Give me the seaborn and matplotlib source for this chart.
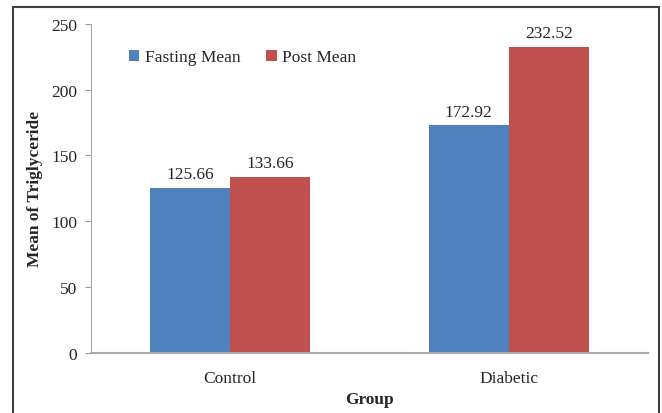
import matplotlib
matplotlib.use("Agg")
import matplotlib.pyplot as plt
import seaborn as sns
import pandas as pd
from matplotlib.patches import Rectangle

groups = ["Control", "Diabetic"]
series = ["Fasting Mean", "Post Mean"]
fasting = [125.66, 172.92]
post = [133.66, 232.52]
yticks = [0, 50, 100, 150, 200, 250]

df = pd.DataFrame({
    "Group": groups * 2,
    "Series": [series[0]] * 2 + [series[1]] * 2,
    "Value": fasting + post,
})

sns.set_style("white")
plt.rcParams["font.family"] = ["Liberation Serif", "DejaVu Serif"]

fig = plt.figure(figsize=(6.62, 4.14), dpi=100)
ax = fig.add_axes([0.1375, 0.145, 0.979 - 0.1375, 0.94 - 0.145])

palette = {"Fasting Mean": "#4F81BD", "Post Mean": "#C0504D"}
sns.barplot(data=df, x="Group", y="Value", hue="Series", palette=palette,
            width=0.575, ax=ax, saturation=1, legend=True, linewidth=0)

for cont in ax.containers:
    ax.bar_label(cont, labels=[f"{v:.2f}" for v in cont.datavalues],
                 padding=4, fontsize=12.5)

ax.set_ylim(0, 250)
ax.set_yticks(yticks)
ax.set_xlim(-0.5, 1.5)
ax.tick_params(axis="y", labelsize=12.5, length=4, color="#999999", direction="out", pad=6, left=True)
ax.tick_params(axis="x", labelsize=12.5, length=0, pad=12)
for s in ["top", "right"]:
    ax.spines[s].set_visible(False)
ax.spines["left"].set_color("#AAAAAA")
ax.spines["bottom"].set_color("#AAAAAA")
ax.spines["bottom"].set_linewidth(1.5)
ax.set_ylabel("Mean of Triglyceride", fontsize=12.5, fontweight="bold", labelpad=6)
ax.set_xlabel("Group", fontsize=12.5, fontweight="bold", labelpad=4)

handles, labels = ax.get_legend_handles_labels()
ax.legend(handles, labels, loc="upper left", bbox_to_anchor=(0.04, 0.97), ncol=2,
          frameon=False, fontsize=12.5, handlelength=0.6, handleheight=0.6,
          handletextpad=0.3, columnspacing=1.5)

fig.patches.append(Rectangle((13 / 662, -0.01), (659 - 13) / 662, 1 - 8 / 414 + 0.01,
                             transform=fig.transFigure, fill=False,
                             edgecolor="#404040", linewidth=1.5))

fig.savefig("out.png", dpi=100)
